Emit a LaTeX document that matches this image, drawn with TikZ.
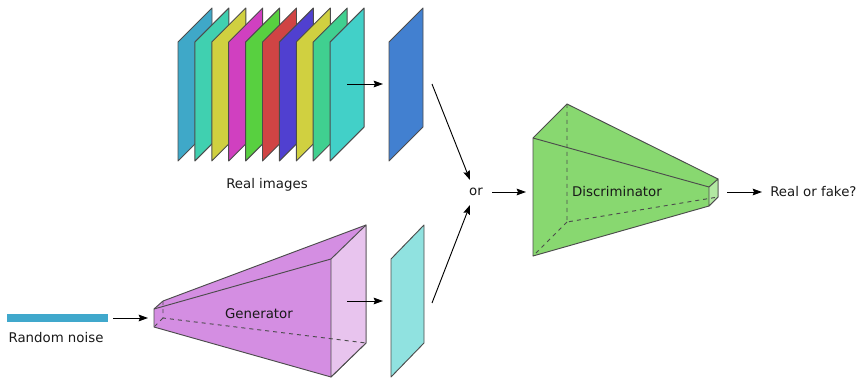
\documentclass[tikz,border=0pt]{standalone}
\usepackage{fontspec}
\setmainfont{DejaVu Sans}
\usetikzlibrary{arrows.meta}
\definecolor{imgA}{HTML}{3FA8C8}
\definecolor{imgB}{HTML}{40D0B0}
\definecolor{imgC}{HTML}{D0D040}
\definecolor{imgD}{HTML}{D040C0}
\definecolor{imgE}{HTML}{58D040}
\definecolor{imgF}{HTML}{D04444}
\definecolor{imgG}{HTML}{5040D0}
\definecolor{imgH}{HTML}{D0D040}
\definecolor{imgI}{HTML}{40D090}
\definecolor{imgJ}{HTML}{42D0C8}
\definecolor{realout}{HTML}{4280D0}
\definecolor{fakeout}{HTML}{90E2E0}
\definecolor{noisebar}{HTML}{40A8CC}
\definecolor{genfill}{HTML}{D48EE2}
\definecolor{genend}{HTML}{E8C4EE}
\definecolor{discfill}{HTML}{88D870}
\definecolor{discend}{HTML}{B2E8A2}
\begin{document}
\begin{tikzpicture}[x=0.75pt,y=-0.75pt,every node/.style={font=\normalsize,text=black!90},
  face/.style={draw=black!70,line width=0.7pt,line join=round},
  hidden/.style={face,dashed},
  arr/.style={-{Stealth[length=7pt,width=5pt,inset=1pt]},line width=0.7pt}]
\useasboundingbox (0,0) rectangle (858,378);
\foreach \c [count=\i from 0] in {imgA,imgB,imgC,imgD,imgE,imgF,imgG,imgH,imgI,imgJ}
  \filldraw[face,fill=\c] (178+16.9*\i,161) -- ++(0,-119) -- ++(34,-34) -- ++(0,119) -- cycle;
\filldraw[face,fill=realout] (389,161) -- ++(0,-119) -- ++(34,-34) -- ++(0,119) -- cycle;
\filldraw[face,fill=fakeout] (391,377) -- ++(0,-118) -- ++(33,-34) -- ++(0,118) -- cycle;
\fill[noisebar] (7,314) rectangle (108,322);
\filldraw[face,fill=genfill] (154,309) -- (163,301) -- (366,225) -- (366,343) -- (331,377) -- (154,327) -- cycle;
\filldraw[face,fill=genend] (331,259) -- (366,225) -- (366,343) -- (331,377) -- cycle;
\draw[face] (154,309) -- (331,259);
\draw[hidden] (163,301) -- (163,318) -- (366,343) (163,318) -- (154,327);
\filldraw[face,fill=discfill] (533,138) -- (567,104) -- (718,179) -- (718,197) -- (709,206) -- (533,256) -- cycle;
\filldraw[face,fill=discend] (709,187) -- (718,179) -- (718,197) -- (709,206) -- cycle;
\draw[face] (533,138) -- (709,187);
\draw[hidden] (567,104) -- (567,222) -- (718,197) (567,222) -- (533,256);
\node (real) at (267,185) {Real images};
\node (noise) at (56,338) {Random noise};
\node (gen) at (259,314) {Generator};
\node (or) at (476,192) {or};
\node (disc) at (617,192) {Discriminator};
\node[anchor=west,inner sep=0pt] (out) at (770,192) {Real or fake?};
\coordinate (stackR) at (347,84);
\coordinate (realin) at (383,84);
\coordinate (noiseR) at (113,318);
\coordinate (genin) at (148,318);
\coordinate (genR) at (347,301);
\coordinate (fakein) at (383,301);
\coordinate (realR) at (432,84);
\coordinate (orN) at (470,180);
\coordinate (fakeR) at (432,303);
\coordinate (orS) at (470,205);
\coordinate (orE) at (492,192);
\coordinate (discin) at (526,192);
\coordinate (discR) at (727,192);
\coordinate (outW) at (762,192);
\draw[arr] (stackR) -- (realin);
\draw[arr] (noiseR) -- (genin);
\draw[arr] (genR) -- (fakein);
\draw[arr] (realR) -- (orN);
\draw[arr] (fakeR) -- (orS);
\draw[arr] (orE) -- (discin);
\draw[arr] (discR) -- (outW);
\end{tikzpicture}
\end{document}
